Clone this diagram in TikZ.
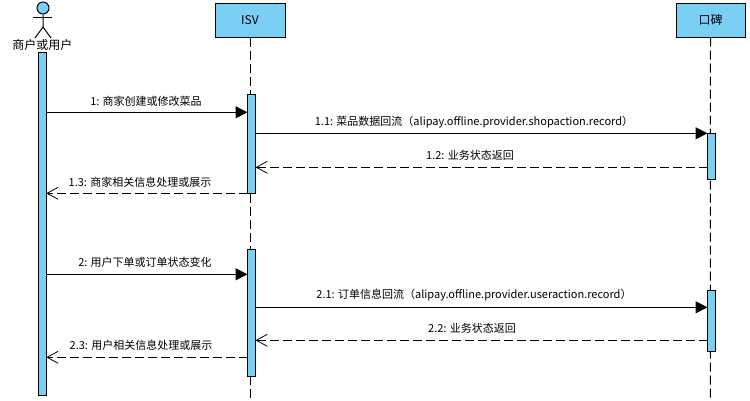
\documentclass[tikz,border=0pt]{standalone}
\usepackage{fontspec}
\setmainfont{Noto Sans CJK SC}
\usetikzlibrary{arrows.meta}
\definecolor{skyblue}{RGB}{122,207,245}

\begin{document}
\begin{tikzpicture}[x=1pt,y=-1pt,
  head/.style={draw,fill=skyblue,line width=1pt,minimum width=70pt,minimum height=34pt,inner sep=0pt,font=\fontsize{12}{14}\selectfont},
  bar/.style={draw,fill=skyblue,line width=1pt,minimum width=8pt,inner sep=0pt},
  life/.style={line width=1pt,dash pattern=on 9pt off 4pt},
  call/.style={line width=1pt,-{Triangle[length=12pt,width=12pt]}},
  reply/.style={line width=0.8pt,dash pattern=on 9pt off 4pt,-{Straight Barb[length=11pt,width=12pt]}},
  msg/.style={font=\fontsize{11}{13}\selectfont,inner sep=0pt}]
\useasboundingbox (0,0) rectangle (750,400);
% actor
\path (43,8) node [circle,draw,line width=1pt,fill=skyblue,minimum size=12pt,inner sep=0pt] (face) {};
\draw [line width=1pt] (face.south) -- (43,27) -- (35,38);
\draw [line width=1pt] (43,27) -- (51,38);
\draw [line width=1pt] (33,17) -- (52,17);
\path (42.5,45) node [font=\fontsize{12}{14}\selectfont,inner sep=0pt] (user) {商户或用户};
\path (250,20)   node [head] (isv)    {ISV};
\path (710.5,20) node [head,minimum width=69pt] (koubei) {口碑};
% lifelines
\path (250,400)   coordinate (isvend);
\path (710.3,400) coordinate (koubeiend);
\draw [life] (isv.south) -- (isvend);
\draw [life] (koubei.south) -- (koubeiend);
% activations
\path (42.3,223.5)  node [bar,minimum height=343pt] (userbar)  {};
\path (251.5,143.5) node [bar,minimum height=99pt]  (isvbar)   {};
\path (251.5,312.5) node [bar,minimum height=127pt] (isvbarr)  {};
\path (711.5,156)   node [bar,minimum height=46pt]  (koubeibar)  {};
\path (711.5,321.3) node [bar,minimum height=61pt]  (koubeibarr) {};
% message ends
\path (46.3,112.3)  coordinate (a1)  (247.5,112.3) coordinate (b1);
\path (255.5,133.3) coordinate (a11) (707.5,133.3) coordinate (b11);
\path (707.5,167.3) coordinate (a12) (255.5,167.3) coordinate (b12);
\path (247.5,193.3) coordinate (a13) (46.3,193.3)  coordinate (b13);
\path (46.3,274.3)  coordinate (a2)  (247.5,274.3) coordinate (b2);
\path (255.5,307.3) coordinate (a21) (707.5,307.3) coordinate (b21);
\path (707.5,340.3) coordinate (a22) (255.5,340.3) coordinate (b22);
\path (247.5,357.3) coordinate (a23) (46.3,357.3)  coordinate (b23);
% messages
\draw [call]  (a1)  -- (b1);
\draw [call]  (a11) -- (b11);
\draw [reply] (a12) -- (b12);
\draw [reply] (a13) -- (b13);
\draw [call]  (a2)  -- (b2);
\draw [call]  (a21) -- (b21);
\draw [reply] (a22) -- (b22);
\draw [reply] (a23) -- (b23);
% labels
\path (146,101) node [msg] (t1)  {1: 商家创建或修改菜品};
\path (474,122) node [msg] (t11) {1.1: 菜品数据回流（alipay.offline.provider.shopaction.record）};
\path (470,155) node [msg] (t12) {1.2: 业务状态返回};
\path (140,182) node [msg] (t13) {1.3: 商家相关信息处理或展示};
\path (145,262) node [msg] (t2)  {2: 用户下单或订单状态变化};
\path (474,295) node [msg] (t21) {2.1: 订单信息回流（alipay.offline.provider.useraction.record）};
\path (472,328) node [msg] (t22) {2.2: 业务状态返回};
\path (141,345) node [msg] (t23) {2.3: 用户相关信息处理或展示};
\end{tikzpicture}
\end{document}
